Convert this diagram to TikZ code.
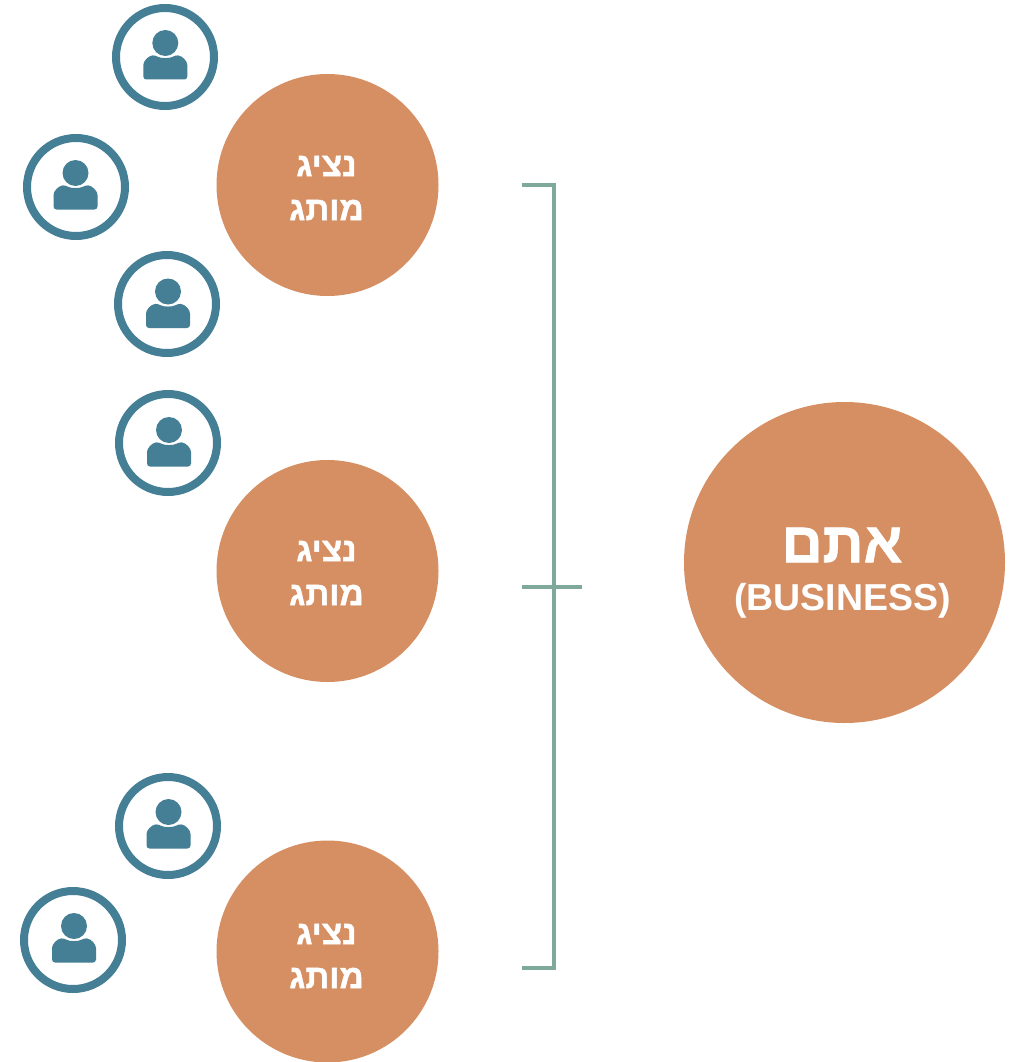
\documentclass[tikz,border=0pt]{standalone}
\usepackage{fontspec}
\setmainfont{Liberation Sans}
\newfontfamily\hebfont[Script=Hebrew,BoldFeatures={FakeBold=1.2}]{Liberation Sans}
\TeXXeTstate=1
\definecolor{orangec}{HTML}{D68F62}
\definecolor{tealc}{HTML}{457F96}
\definecolor{greenc}{HTML}{7FAA9B}
\newcommand{\heb}[1]{{\hebfont\bfseries\beginR #1\endR}}
\tikzset{
  x=1pt,y=-1pt,
  repnode/.style={circle,fill=orangec,minimum size=222pt,inner sep=0pt},
  bignode/.style={circle,fill=orangec,minimum size=321pt,inner sep=0pt},
  reptext/.style={text=white,align=center,inner sep=0pt,font=\fontsize{33.5}{44}\selectfont},
  bigtext/.style={text=white,inner sep=0pt,anchor=center},
  ringnode/.style={circle,draw=tealc,line width=8pt,fill=white,minimum size=98pt,inner sep=0pt},
  bracket/.style={draw=greenc,line width=4pt},
  person/.pic={
    \fill[tealc] (0,-14) circle (13);
    \fill[tealc,rounded corners=3pt] (-22,22.5) -- (-22,11) .. controls (-22,4) and (-17,-1) .. (-10,-2) .. controls (-5,1.5) and (5,1.5) .. (10,-2) .. controls (17,-1) and (22,4) .. (22,11) -- (22,22.5) -- cycle;
  }
}
\begin{document}
\begin{tikzpicture}
\useasboundingbox (0,0) rectangle (1013,1062);
\node[repnode] (r1) at (327.5,185) {};
\node[repnode] (r2) at (327.5,571) {};
\node[repnode] (r3) at (327.5,951.5) {};
\node[reptext] (t1) at (326.5,188) {\heb{נציג}\\\heb{מותג}};
\node[reptext] (t2) at (326.5,573) {\heb{נציג}\\\heb{מותג}};
\node[reptext] (t3) at (326.5,956) {\heb{נציג}\\\heb{מותג}};
\node[bignode] (b) at (844.5,562.5) {};
\node[bigtext] (b1) at (842,545) {\fontsize{57}{57}\selectfont\heb{אתם}};
\node[bigtext] (b2) at (842.5,601) {\fontsize{37.5}{40}\selectfont\bfseries (BUSINESS)};
\foreach \n/\cx/\cy/\ox/\oy in {p1/165/57/0.3/0,p2/76/187/-0.5/0,p3/167/304/1/1.5,p4/168/443/1/1,p5/168/826/0.5/0,p6/73/940/1/0}{
  \node[ringnode] (\n) at (\cx,\cy) {};
  \pic at ([shift={(\ox,\oy)}]\n.center) {person};
}
\coordinate (bt) at (522,184.5);
\coordinate (bc) at (554,184.5);
\coordinate (bd) at (554,968);
\coordinate (be) at (522,968);
\coordinate (ml) at (522,587);
\coordinate (mr) at (582,587);
\draw[bracket] (bt) -- (bc) -- (bd) -- (be);
\draw[bracket] (ml) -- (mr);
\end{tikzpicture}
\end{document}
